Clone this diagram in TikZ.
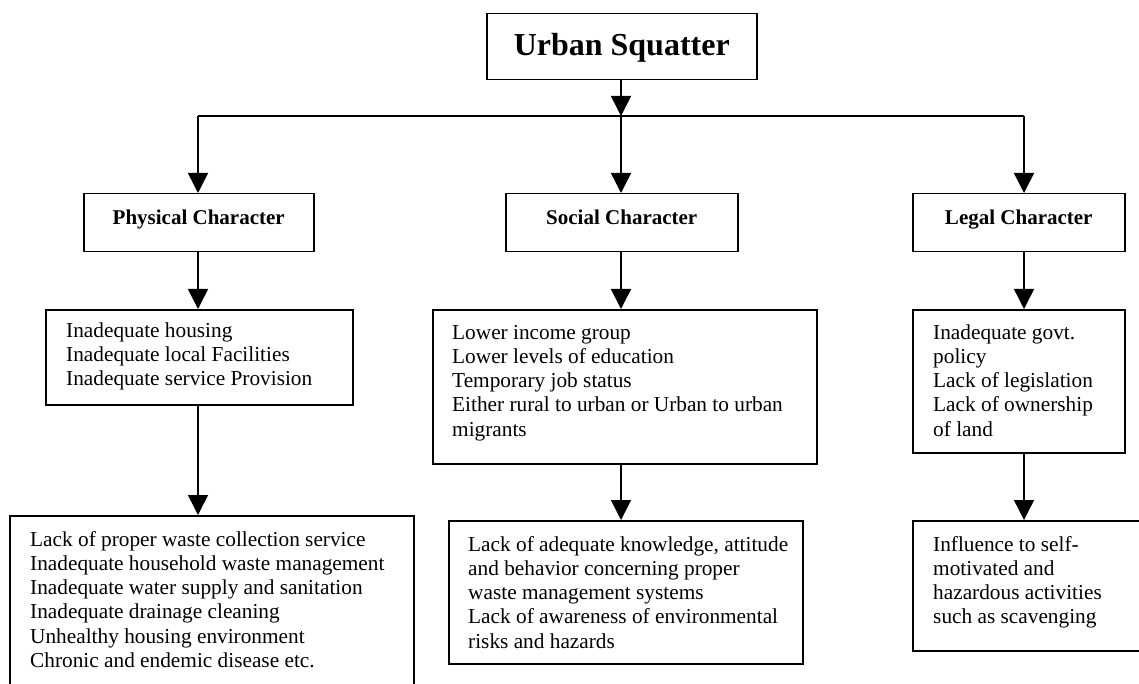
\documentclass[tikz,border=0pt]{standalone}
\usepackage{fontspec}
\setmainfont{Liberation Serif}
\usetikzlibrary{arrows.meta}
\newcommand\firstrule{\rule{0pt}{17pt}}
\tikzset{
  box/.style={draw, line width=1.5pt, rectangle, inner sep=0pt, anchor=north west},
  titlebox/.style={box, font=\fontsize{21}{24}\selectfont\bfseries, text height=14pt, text depth=10pt},
  bodytext/.style={anchor=north west, inner sep=0pt, align=left, font=\fontsize{21.3}{24.2}\selectfont},
  arr/.style={line width=1.5pt, -{Triangle[width=20pt,length=20pt]}},
  link/.style={line width=1.5pt},
}
\begin{document}
\begin{tikzpicture}[x=1pt,y=-1pt]
\clip (0,0) rectangle (1139,684);
\fill[white] (0,0) rectangle (1139,684);
% column coordinates
\coordinate (colP) at (198,0);
\coordinate (colS) at (621,0);
\coordinate (colL) at (1024,0);
\coordinate (bus) at (621,116);
% top
\node[box, minimum width=270pt, minimum height=66pt, font=\fontsize{32}{36}\selectfont\bfseries, text height=24pt, text depth=6pt] (top) at (486,13) {Urban Squatter};
% level 1
\node[titlebox, minimum width=230pt, minimum height=58pt] (p1) at (83,193) {Physical Character};
\node[titlebox, minimum width=232pt, minimum height=58pt] (s1) at (505,193) {Social Character};
\node[titlebox, minimum width=212pt, minimum height=58pt] (l1) at (912,193) {Legal Character};
% level 2 boxes
\node[box, minimum width=307pt, minimum height=95pt] (p2) at (45,309) {};
\node[box, minimum width=384pt, minimum height=154pt] (s2) at (432,309) {};
\node[box, minimum width=212pt, minimum height=143pt] (l2) at (912,309) {};
% level 3 boxes
\node[box, minimum width=404pt, minimum height=190pt] (p3) at (9,515) {};
\node[box, minimum width=354pt, minimum height=143pt] (s3) at (448,520) {};
\node[box, minimum width=240pt, minimum height=130pt] (l3) at (912,520) {};
% texts
\node[bodytext] (p2t) at (66,320) {\firstrule Inadequate housing\\Inadequate local Facilities\\Inadequate service Provision};
\node[bodytext] (s2t) at (452,322) {\firstrule Lower income group\\Lower levels of education\\Temporary job status\\Either rural to urban or Urban to urban\\migrants};
\node[bodytext] (l2t) at (933,322) {\firstrule Inadequate govt.\\policy\\Lack of legislation\\Lack of ownership\\of land};
\node[bodytext] (p3t) at (30,529) {\firstrule Lack of proper waste collection service\\Inadequate household waste management\\Inadequate water supply and sanitation\\Inadequate drainage cleaning\\Unhealthy housing environment\\Chronic and endemic disease etc.};
\node[bodytext] (s3t) at (468,534) {\firstrule Lack of adequate knowledge, attitude\\and behavior concerning proper\\waste management systems\\Lack of awareness of environmental\\risks and hazards};
\node[bodytext] (l3t) at (933,534) {\firstrule Influence to self-\\motivated and\\hazardous activities\\such as scavenging};
% connectors
\draw[arr] (top.south -| bus) -- (bus);
\draw[link] (bus -| colP) -- (bus -| colL);
\draw[arr] (bus) -- (s1.north -| colS);
\draw[arr] (bus -| colP) -- (p1.north -| colP);
\draw[arr] (bus -| colL) -- (l1.north -| colL);
\draw[arr] (p1.south -| colP) -- (p2.north -| colP);
\draw[arr] (p2.south -| colP) -- (p3.north -| colP);
\draw[arr] (s1.south -| colS) -- (s2.north -| colS);
\draw[arr] (s2.south -| colS) -- (s3.north -| colS);
\draw[arr] (l1.south -| colL) -- (l2.north -| colL);
\draw[arr] (l2.south -| colL) -- (l3.north -| colL);
\end{tikzpicture}
\end{document}
